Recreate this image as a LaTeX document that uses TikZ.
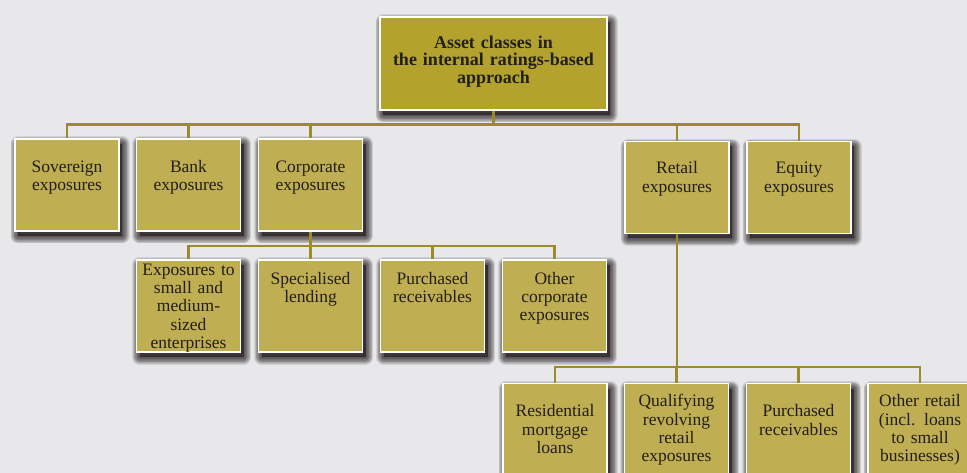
\documentclass[tikz,border=0pt]{standalone}
\usepackage{fontspec}
\setmainfont{Liberation Serif}

\definecolor{pagebg}{HTML}{E8E8EB}
\definecolor{goldtop}{HTML}{B3A22E}
\definecolor{goldbox}{HTML}{BFAE52}
\definecolor{linkolive}{HTML}{9C8B2B}
\definecolor{ink}{HTML}{231F1A}
\definecolor{shade}{HTML}{2B2426}

\tikzset{
  % soft drop shadow, built from widening translucent copies
  halo/.style={preaction={draw=shade, fill=shade, line join=round, line width=#1,
    opacity=.12, transform canvas={xshift=3pt, yshift=-5pt}}},
  card/.style={halo=15pt, halo=13.5pt, halo=12pt, halo=10.5pt, halo=9pt,
    halo=7.5pt, halo=6pt, halo=4.5pt, halo=3pt, halo=1.5pt,
    draw=white, line width=1.2pt, fill=goldbox, minimum width=104pt,
    minimum height=92pt, inner sep=0pt},
  headcard/.style={card, fill=goldtop, minimum width=227pt, minimum height=93pt},
  cardtext/.style={anchor=base, inner sep=0pt, text width=104pt, align=center, text=ink,
    font=\fontsize{17.5}{18.3}\selectfont},
  headtext/.style={cardtext, text width=227pt, font=\bfseries\fontsize{18}{17.5}\selectfont},
  link/.style={draw=linkolive, line width=2.2pt}
}

\begin{document}
\begin{tikzpicture}[x=1pt, y=-1pt]
\useasboundingbox[fill=pagebg] (0,0) rectangle (967,473);

% root
\node[headcard] (irb) at (493.5,63.5) {};
\node[headtext] (irbt) at ([yshift=-32pt]irb.north) {Asset classes in\\the internal ratings-based\\approach};

% first level
\node[card] (sov) at (67,185) {};
\node[card] (bank) at (188.5,185) {};
\node[card] (corp) at (310.5,185) {};
\node[card] (retail) at (677,187.5) {};
\node[card] (equity) at (799,187.5) {};
\node[cardtext] (sovt) at ([yshift=-34pt]sov.north) {Sovereign\\exposures};
\node[cardtext] (bankt) at ([yshift=-34pt]bank.north) {Bank\\exposures};
\node[cardtext] (corpt) at ([yshift=-34pt]corp.north) {Corporate\\exposures};
\node[cardtext] (retailt) at ([yshift=-33pt]retail.north) {Retail\\exposures};
\node[cardtext] (equityt) at ([yshift=-33pt]equity.north) {Equity\\exposures};

% corporate sub-classes
\node[card] (sme) at (188.5,306) {};
\node[card] (spec) at (310.5,306) {};
\node[card] (purch) at (432.5,306) {};
\node[card] (othcorp) at (554.5,306) {};
\node[cardtext] (smet) at ([yshift=-16pt]sme.north) {Exposures to\\small and\\medium-\\sized\\enterprises};
\node[cardtext] (spect) at ([yshift=-25pt]spec.north) {Specialised\\lending};
\node[cardtext] (purcht) at ([yshift=-25pt]purch.north) {Purchased\\receivables};
\node[cardtext] (othcorpt) at ([yshift=-25pt]othcorp.north) {Other\\corporate\\exposures};

% retail sub-classes
\node[card] (resid) at (555,429.5) {};
\node[card] (qrre) at (676.5,429.5) {};
\node[card] (rpurch) at (798.5,429.5) {};
\node[card] (othretail) at (920,429.5) {};
\node[cardtext] (residt) at ([yshift=-34pt]resid.north) {Residential\\mortgage\\loans};
\node[cardtext] (qrret) at ([yshift=-24pt]qrre.north) {Qualifying\\revolving\\retail\\exposures};
\node[cardtext] (rpurcht) at ([yshift=-34pt]rpurch.north) {Purchased\\receivables};
\node[cardtext] (othretailt) at ([yshift=-24pt]othretail.north) {Other retail\\(incl. loans\\to small\\businesses)};

% connectors
\coordinate (bus1) at (493.5,124.5);
\coordinate (bus2) at (310.5,246);
\coordinate (bus3) at (677,367);
\foreach \n in {sov,bank,corp,retail,equity}
  \draw[link] (\n.north) |- (bus1) -- (irb.south);
\foreach \n in {sme,spec,purch,othcorp}
  \draw[link] (\n.north) |- (bus2) -- (corp.south);
\foreach \n in {resid,qrre,rpurch,othretail}
  \draw[link] (\n.north) |- (bus3) -- (retail.south);
\end{tikzpicture}
\end{document}
